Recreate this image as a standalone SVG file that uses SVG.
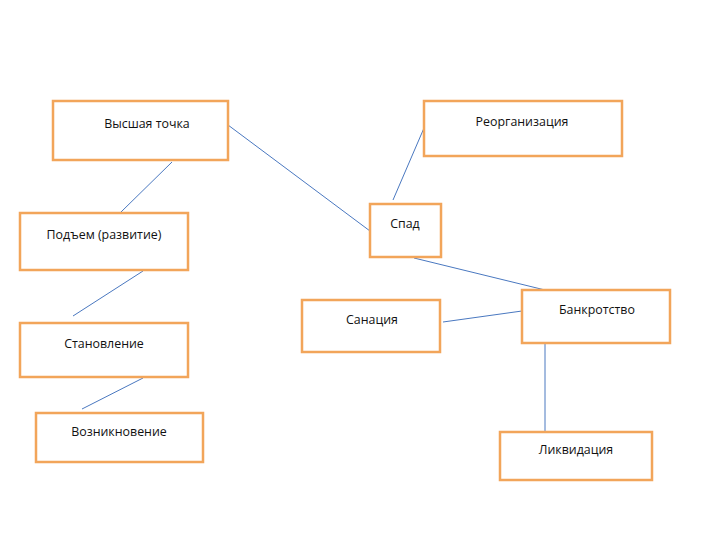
<svg xmlns="http://www.w3.org/2000/svg" width="720" height="540" viewBox="0 0 720 540">
<style>
.box{fill:#fff;stroke:#F2A55A;stroke-width:2.5}
.t{font-family:"Open Sans","DejaVu Sans",sans-serif;font-size:12.4px;fill:#111;text-anchor:middle;dominant-baseline:middle}
.c{stroke:#4A78C0;stroke-width:1;fill:none}
</style>
<rect width="720" height="540" fill="#fff"/>
<g id="connectors">
<line class="c" x1="228" y1="125" x2="370" y2="231"/>
<line class="c" x1="424" y1="128" x2="393" y2="200"/>
<line class="c" x1="172" y1="162" x2="121" y2="212"/>
<line class="c" x1="143" y1="271" x2="73" y2="316"/>
<line class="c" x1="143" y1="378" x2="82" y2="409"/>
<line class="c" x1="414" y1="258" x2="545" y2="290"/>
<line class="c" x1="443" y1="322" x2="522" y2="311"/>
<line class="c" x1="545" y1="344" x2="545" y2="432"/>
</g>
<g id="vysshaya"><rect class="box" x="53" y="101" width="175" height="59"/><text class="t" x="147" y="125">Высшая точка</text></g>
<g id="reorg"><rect class="box" x="424" y="101" width="198" height="55"/><text class="t" x="522" y="123">Реорганизация</text></g>
<g id="spad"><rect class="box" x="370" y="204" width="71" height="53"/><text class="t" x="405" y="225">Спад</text></g>
<g id="podyem"><rect class="box" x="20" y="213" width="168" height="57"/><text class="t" x="104" y="236">Подъем (развитие)</text></g>
<g id="sanaciya"><rect class="box" x="302" y="300" width="138" height="52"/><text class="t" x="372" y="321">Санация</text></g>
<g id="bankrot"><rect class="box" x="522" y="290" width="148" height="53"/><text class="t" x="597" y="311">Банкротство</text></g>
<g id="stanovl"><rect class="box" x="20" y="323" width="168" height="54"/><text class="t" x="104" y="345">Становление</text></g>
<g id="vozn"><rect class="box" x="36" y="413" width="167" height="49"/><text class="t" x="119" y="433">Возникновение</text></g>
<g id="likvid"><rect class="box" x="500" y="432" width="152" height="48"/><text class="t" x="576" y="451">Ликвидация</text></g>
</svg>
